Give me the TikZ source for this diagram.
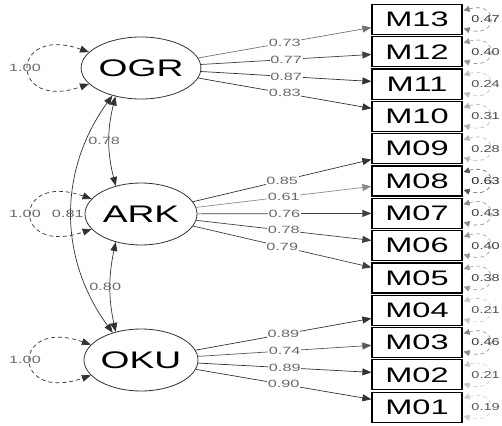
\documentclass[tikz,border=0pt]{standalone}
\usepackage{fontspec}
\setmainfont{Liberation Sans}
\usepackage{graphicx}
\usetikzlibrary{arrows.meta,shapes.geometric}
\newcommand\hstr[1]{\scalebox{1.55}[1]{#1}}
\newcommand\hstrr[1]{\scalebox{1.45}[1]{#1}}
\definecolor{lab}{RGB}{105,105,115}
\definecolor{edk}{RGB}{50,50,50}
\begin{document}
\begin{tikzpicture}[x=1pt,y=-1pt,
  lat/.style={draw=edk, ellipse, minimum width=112pt, minimum height=62pt, inner sep=0pt, line width=0.8pt, font=\fontsize{24}{24}\selectfont},
  man/.style={draw=black, rectangle, minimum width=90pt, minimum height=30pt, inner sep=0pt, line width=1.2pt, font=\fontsize{21}{21}\selectfont},
  ld/.style={line width=0.7pt, -{Triangle[length=9pt,width=7pt]}},
  lbl/.style={font=\fontsize{10.5}{10.5}\selectfont, text=lab, fill=white, inner sep=0.6pt},
  clbl/.style={font=\fontsize{10.5}{10.5}\selectfont, text=lab, inner sep=0pt},
  rlbl/.style={font=\fontsize{10}{10}\selectfont, inner sep=0pt},
  ll/.style={draw=edk, line width=0.7pt, dash pattern=on 4pt off 3pt, {Triangle[length=9pt,width=7pt]}-{Triangle[length=9pt,width=7pt]}},
  cv/.style={draw=edk, line width=0.7pt, {Triangle[length=9pt,width=7pt]}-{Triangle[length=9pt,width=7pt]}},
  res/.style={line width=0.6pt, dash pattern=on 4pt off 3pt, {Triangle[length=6pt,width=6pt]}-{Triangle[length=6pt,width=6pt]}}
]
\useasboundingbox (0,0) rectangle (502,425);

% latent variables
\node[lat] (OGR) at (141,68) {\hstr{OGR}};
\node[lat] (ARK) at (141,214) {\hstr{ARK}};
\node[lat] (OKU) at (141,360) {\hstr{OKU}};

% manifest variables
\foreach \n [count=\i from 0] in {M13,M12,M11,M10,M09,M08,M07,M06,M05,M04,M03,M02,M01}
  \node[man] (\n) at (417,{19.5+\i*32.3}) {\hstr{\n}};

% loadings
\foreach \l/\m/\v/\c in {OGR/M13/0.73/55, OGR/M12/0.77/75, OGR/M11/0.87/80, OGR/M10/0.83/80,
  ARK/M09/0.85/80, ARK/M08/0.61/45, ARK/M07/0.76/75, ARK/M06/0.78/75, ARK/M05/0.79/75,
  OKU/M04/0.89/80, OKU/M03/0.74/65, OKU/M02/0.89/80, OKU/M01/0.90/80}
  \draw[ld, draw=black!\c, color=black!\c] (\l) -- node[lbl]{\hstr{\v}} (\m);

% residuals of manifest variables
\foreach \n/\v in {M13/0.47, M12/0.40, M11/0.24, M10/0.31, M09/0.28, M08/0.63, M07/0.43,
  M06/0.40, M05/0.38, M04/0.21, M03/0.46, M02/0.21, M01/0.19}{
  \pgfmathtruncatemacro\g{\v*105}
  \draw[res, draw=black!\g, color=black!\g] ([xshift=1pt,yshift=9pt]\n.east) .. controls +(35,-10) and +(35,10) .. ([xshift=1pt,yshift=-9pt]\n.east);
  \node[rlbl, text=black!\g!lab] at ([xshift=23pt]\n.east) {\hstrr{\v}};
}

% variances of latent variables
\foreach \l in {OGR,ARK,OKU}{
  \draw[ll] (\l.163) .. controls +(-80,-28) and +(-80,28) .. (\l.197);
  \node[clbl] at ([xshift=-116pt]\l.center) {\hstr{1.00}};
}

% covariances
\draw[cv] (OGR.228) to[bend right=14] node[clbl, xshift=-5pt]{\hstr{0.78}} (ARK.132);
\draw[cv] (ARK.228) to[bend right=12] node[clbl, xshift=-5pt]{\hstr{0.80}} (OKU.132);
\draw[cv] (OGR.224) to[bend right=36] node[clbl, xshift=-4pt]{\hstr{0.81}} (OKU.136);
\end{tikzpicture}
\end{document}
